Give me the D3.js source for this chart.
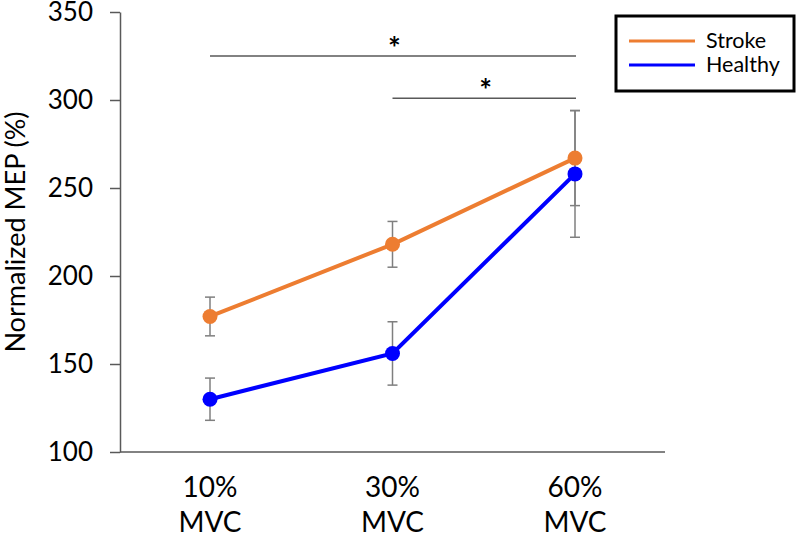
<!DOCTYPE html>
<html>
<head>
<meta charset="utf-8">
<script src="https://cdn.jsdelivr.net/npm/d3@7"></script>
<style>
  body { margin: 0; background: #fff; }
  svg text { font-family: Lato, "Open Sans", sans-serif; }
</style>
</head>
<body>
<div id="chart"></div>
<script>
// data
const categories = ["10%\nMVC", "30%\nMVC", "60%\nMVC"];
const strokeMean = [177, 218, 267];
const strokeErr = [11, 13, 27];
const healthyMean = [130, 156, 258];
const healthyErr = [12, 18, 36];
const yTicks = [100, 150, 200, 250, 300, 350];
// significance brackets: [from index, to index, level]
const sigBars = [[0, 2, 325], [1, 2, 301]];

const series = [
    {name: "Stroke", values: strokeMean, err: strokeErr, color: "#ED7D31"},
    {name: "Healthy", values: healthyMean, err: healthyErr, color: "#0000FF"}
];

const width = 800, height = 533;
const svg = d3.select("#chart").append("svg")
    .attr("width", width)
    .attr("height", height);

// scales
const x = d3.scalePoint()
    .domain(d3.range(categories.length))
    .range([210, 575]);
const y = d3.scaleLinear()
    .domain([100, 350])
    .range([452, 12]);

const axisColor = "#595959";

// y axis
const yAxis = d3.axisLeft(y).tickValues(yTicks).tickSize(10).tickSizeOuter(0).tickPadding(17);
const yAxisGroup = svg.append("g")
    .attr("transform", "translate(120,0)")
    .call(yAxis);
yAxisGroup.select(".domain").attr("stroke", axisColor).attr("stroke-width", 1.5);
yAxisGroup.selectAll(".tick line").attr("stroke", axisColor).attr("stroke-width", 1.5);
yAxisGroup.selectAll(".tick text")
    .attr("fill", "#000")
    .style("font-size", "26px");

// x axis line
svg.append("line")
    .attr("x1", 120).attr("x2", 665)
    .attr("y1", y(100)).attr("y2", y(100))
    .attr("stroke", axisColor)
    .attr("stroke-width", 1.5);

// category labels (two lines)
categories.forEach((c, i) => {
    const t = svg.append("text")
        .attr("text-anchor", "middle")
        .attr("x", x(i))
        .style("font-size", "28px")
        .attr("fill", "#000");
    c.split("\n").forEach((part, j) => {
        t.append("tspan")
            .attr("x", x(i))
            .attr("y", 497 + j * 35)
            .text(part);
    });
});

// y axis title
svg.append("text")
    .attr("transform", `translate(25, 232) rotate(-90)`)
    .attr("text-anchor", "middle")
    .style("font-size", "27px")
    .attr("fill", "#000")
    .text("Normalized MEP (%)");

// significance bars
sigBars.forEach(s => {
    svg.append("line")
        .attr("x1", x(s[0])).attr("x2", x(s[1]) + 1)
        .attr("y1", y(s[2])).attr("y2", y(s[2]))
        .attr("stroke", axisColor)
        .attr("stroke-width", 1.5);
    svg.append("text")
        .attr("x", (x(s[0]) + x(s[1])) / 2 + 2)
        .attr("y", y(s[2]) + 3)
        .attr("text-anchor", "middle")
        .style("font-size", "30px")
        .style("font-weight", "bold")
        .attr("fill", "#000")
        .text("*");
});

// error bars
series.forEach(s => {
    const g = svg.append("g").attr("class", "errbar");
    s.values.forEach((v, i) => {
        const lo = y(v - s.err[i]), hi = y(v + s.err[i]);
        g.append("line")
            .attr("x1", x(i)).attr("x2", x(i))
            .attr("y1", lo).attr("y2", hi)
            .attr("stroke", "#7f7f7f").attr("stroke-width", 1.5);
        [lo, hi].forEach(yy => {
            g.append("line")
                .attr("x1", x(i) - 5).attr("x2", x(i) + 5)
                .attr("y1", yy).attr("y2", yy)
                .attr("stroke", "#7f7f7f").attr("stroke-width", 1.5);
        });
    });
});

// lines and markers
const line = d3.line()
    .x((d, i) => x(i))
    .y(d => y(d));

series.forEach(s => {
    svg.append("path")
        .datum(s.values)
        .attr("fill", "none")
        .attr("stroke", s.color)
        .attr("stroke-width", 4)
        .attr("d", line);
    svg.selectAll(null)
        .data(s.values)
        .enter()
        .append("circle")
        .attr("cx", (d, i) => x(i))
        .attr("cy", d => y(d))
        .attr("r", 7.5)
        .attr("fill", s.color);
});

// legend
const legend = svg.append("g").attr("class", "legend");
legend.append("rect")
    .attr("x", 616).attr("y", 16)
    .attr("width", 178).attr("height", 75)
    .attr("fill", "#fff")
    .attr("stroke", "#000")
    .attr("stroke-width", 3);
series.forEach((s, i) => {
    const ly = 41 + i * 24;
    legend.append("line")
        .attr("x1", 629).attr("x2", 695)
        .attr("y1", ly).attr("y2", ly)
        .attr("stroke", s.color)
        .attr("stroke-width", 3);
    legend.append("text")
        .attr("x", 706)
        .attr("y", ly + 7)
        .style("font-size", "21.5px")
        .attr("fill", "#000")
        .text(s.name);
});
</script>
</body>
</html>
